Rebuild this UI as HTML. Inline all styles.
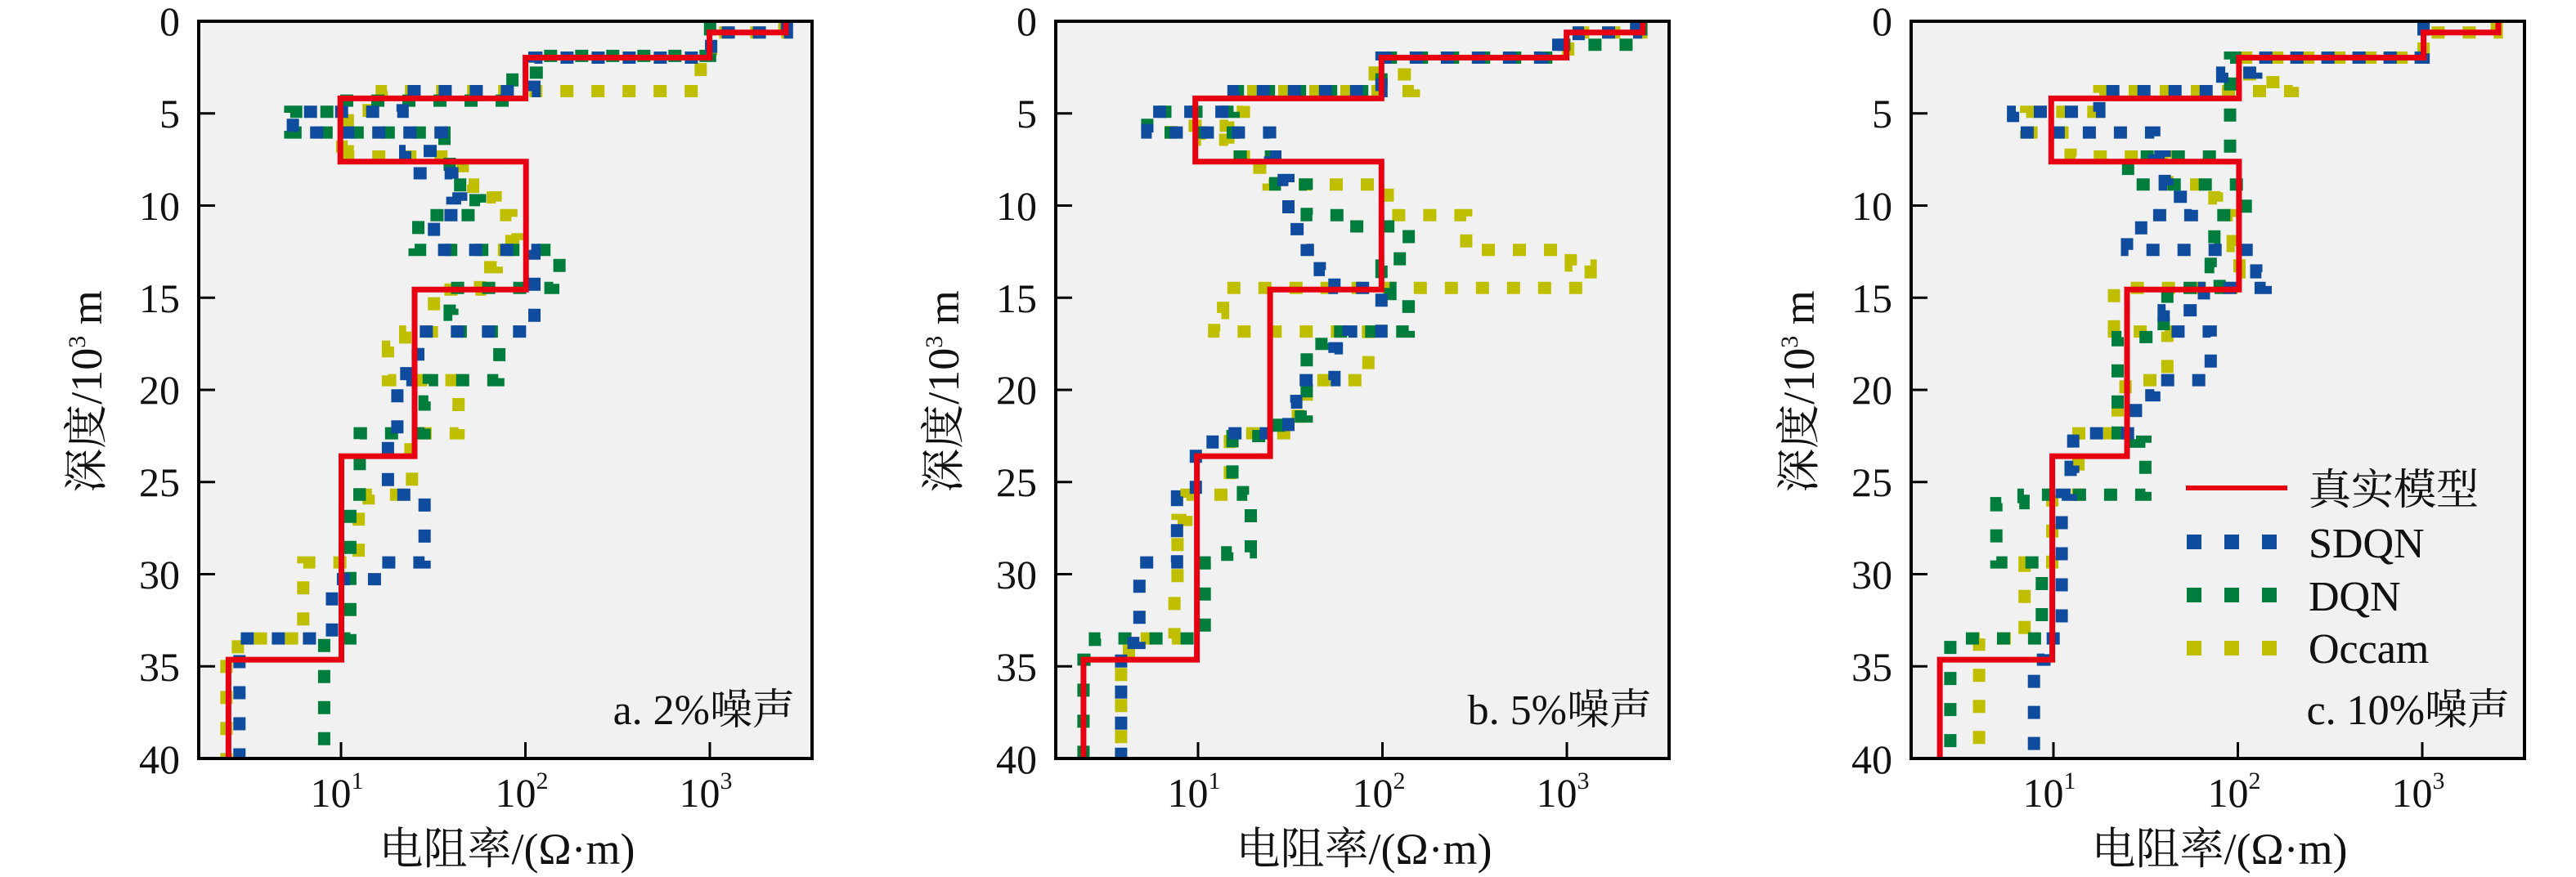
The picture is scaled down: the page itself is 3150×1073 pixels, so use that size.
<!DOCTYPE html>
<html><head><meta charset="utf-8"><style>
html,body{margin:0;padding:0;background:#fff;}
svg{display:block;font-family:"Liberation Serif","Times New Roman","Noto Serif CJK SC","Noto Sans CJK SC",serif;}
svg text{font-family:"Liberation Serif","Times New Roman","Noto Serif CJK SC","Noto Sans CJK SC",serif;fill:#111;}
</style></head><body>
<svg id="s" width="3150" height="1073" viewBox="0 0 3150 1073" xmlns="http://www.w3.org/2000/svg" font-family="Liberation Serif, Noto Serif CJK SC, serif">
<g id="p0" transform="translate(0,0)">
 <rect x="243" y="26" width="750" height="902" fill="#f1f1f1"/>
 <text x="972" y="886" font-size="52" text-anchor="end">a. 2%噪声</text>
</g>
<g id="p1" transform="translate(1048,0)">
 <rect x="243" y="26" width="750" height="902" fill="#f1f1f1"/>
 <text x="972" y="886" font-size="52" text-anchor="end">b. 5%噪声</text>
</g>
<g id="p2" transform="translate(2094,0)">
 <rect x="243" y="26" width="750" height="902" fill="#f1f1f1"/>
 <text x="975" y="886" font-size="52" text-anchor="end">c. 10%噪声</text>
 <line x1="579" y1="597" x2="703" y2="597" stroke="#e60012" stroke-width="6"/>
 <rect x="580" y="654" width="18" height="18" fill="#0f4c9e"/><rect x="626" y="654" width="18" height="18" fill="#0f4c9e"/><rect x="672" y="654" width="18" height="18" fill="#0f4c9e"/>
 <rect x="580" y="719" width="18" height="18" fill="#007d3c"/><rect x="626" y="719" width="18" height="18" fill="#007d3c"/><rect x="672" y="719" width="18" height="18" fill="#007d3c"/>
 <rect x="580" y="784" width="18" height="18" fill="#bfbf00"/><rect x="626" y="784" width="18" height="18" fill="#bfbf00"/><rect x="672" y="784" width="18" height="18" fill="#bfbf00"/>
 <text x="729" y="617" font-size="52">真实模型</text>
 <text x="729" y="682" font-size="52">SDQN</text>
 <text x="729" y="747" font-size="52">DQN</text>
 <text x="729" y="811" font-size="52">Occam</text>
</g>
<g>
 <text x="620" y="1057" font-size="54" text-anchor="middle">电阻率/(Ω·m)</text>
 <text transform="translate(124,479) rotate(-90)" font-size="54" text-anchor="middle">深度/10<tspan font-size="30" dy="-20">3</tspan><tspan dy="20"> m</tspan></text>
</g>
<g transform="translate(1048,0)">
 <text x="620" y="1057" font-size="54" text-anchor="middle">电阻率/(Ω·m)</text>
 <text transform="translate(124,479) rotate(-90)" font-size="54" text-anchor="middle">深度/10<tspan font-size="30" dy="-20">3</tspan><tspan dy="20"> m</tspan></text>
</g>
<g transform="translate(2094,0)">
 <text x="620" y="1057" font-size="54" text-anchor="middle">电阻率/(Ω·m)</text>
 <text transform="translate(124,479) rotate(-90)" font-size="54" text-anchor="middle">深度/10<tspan font-size="30" dy="-20">3</tspan><tspan dy="20"> m</tspan></text>
</g>
<g id="t0">
 <text x="220" y="43" font-size="50" text-anchor="end">0</text>
 <text x="220" y="156" font-size="50" text-anchor="end">5</text>
 <text x="220" y="269" font-size="50" text-anchor="end">10</text>
 <text x="220" y="382" font-size="50" text-anchor="end">15</text>
 <text x="220" y="494" font-size="50" text-anchor="end">20</text>
 <text x="220" y="607" font-size="50" text-anchor="end">25</text>
 <text x="220" y="720" font-size="50" text-anchor="end">30</text>
 <text x="220" y="833" font-size="50" text-anchor="end">35</text>
 <text x="220" y="946" font-size="50" text-anchor="end">40</text>
 <text x="412" y="987" font-size="50" text-anchor="middle">10<tspan font-size="30" dy="-22">1</tspan></text>
 <text x="638" y="987" font-size="50" text-anchor="middle">10<tspan font-size="30" dy="-22">2</tspan></text>
 <text x="863" y="987" font-size="50" text-anchor="middle">10<tspan font-size="30" dy="-22">3</tspan></text>
</g>
<g transform="translate(1048,0)">
 <text x="220" y="43" font-size="50" text-anchor="end">0</text>
 <text x="220" y="156" font-size="50" text-anchor="end">5</text>
 <text x="220" y="269" font-size="50" text-anchor="end">10</text>
 <text x="220" y="382" font-size="50" text-anchor="end">15</text>
 <text x="220" y="494" font-size="50" text-anchor="end">20</text>
 <text x="220" y="607" font-size="50" text-anchor="end">25</text>
 <text x="220" y="720" font-size="50" text-anchor="end">30</text>
 <text x="220" y="833" font-size="50" text-anchor="end">35</text>
 <text x="220" y="946" font-size="50" text-anchor="end">40</text>
 <text x="412" y="987" font-size="50" text-anchor="middle">10<tspan font-size="30" dy="-22">1</tspan></text>
 <text x="638" y="987" font-size="50" text-anchor="middle">10<tspan font-size="30" dy="-22">2</tspan></text>
 <text x="863" y="987" font-size="50" text-anchor="middle">10<tspan font-size="30" dy="-22">3</tspan></text>
</g>
<g transform="translate(2094,0)">
 <text x="220" y="43" font-size="50" text-anchor="end">0</text>
 <text x="220" y="156" font-size="50" text-anchor="end">5</text>
 <text x="220" y="269" font-size="50" text-anchor="end">10</text>
 <text x="220" y="382" font-size="50" text-anchor="end">15</text>
 <text x="220" y="494" font-size="50" text-anchor="end">20</text>
 <text x="220" y="607" font-size="50" text-anchor="end">25</text>
 <text x="220" y="720" font-size="50" text-anchor="end">30</text>
 <text x="220" y="833" font-size="50" text-anchor="end">35</text>
 <text x="220" y="946" font-size="50" text-anchor="end">40</text>
 <text x="412" y="987" font-size="50" text-anchor="middle">10<tspan font-size="30" dy="-22">1</tspan></text>
 <text x="638" y="987" font-size="50" text-anchor="middle">10<tspan font-size="30" dy="-22">2</tspan></text>
 <text x="863" y="987" font-size="50" text-anchor="middle">10<tspan font-size="30" dy="-22">3</tspan></text>
</g>
</svg>
<script>
(function(){
var NS="http://www.w3.org/2000/svg";
var svg=document.getElementById('s');
var offs=[0,1048,2094];
var FX=1.564, FY=1.462;
function conv(d,ox){
  var t=d.match(/[MHV]|-?\d+(\.\d+)?/g),out="",i=0,c;
  while(i<t.length){
    if(/[MHV]/.test(t[i])){c=t[i];i++;}
    if(c==="M"){out+="M"+(t[i]/FX+ox).toFixed(1)+" "+(t[i+1]/FY).toFixed(1)+" ";i+=2;}
    else if(c==="H"){out+="H"+(t[i]/FX+ox).toFixed(1)+" ";i++;}
    else {out+="V"+(t[i]/FY).toFixed(1)+" ";i++;}
  }
  return out;
}
var data=[
{y:"M1500 40 V58 H1360 V100 H1340 V163 H730 V197 H705 V215 H665 V262 H640 V280 H885 V293 H885 V330 H905 V353 H948 V385 H978 V428 H993 V447 H950 V478 H918 V518 H830 V575 H826 V593 H775 V620 H742 V680 H877 V740 H877 V775 H785 V838 H788 V885 H705 V928 H686 V986 H686 V1006 H580 V1128 H580 V1142 H455 V1180 H433 V1357",
 g:"M1358 40 V100 H1040 V130 H980 V180 H640 V200 H555 V237 H850 V280 H860 V330 H880 V358 H918 V385 H800 V428 H793 V447 H1070 V495 H1058 V515 H860 V563 H865 V593 H955 V663 H953 V680 H820 V718 H812 V775 H688 V885 H670 V1142 H620 V1357",
 b:"M1505 40 V58 H1360 V103 H1022 V163 H770 V200 H560 V237 H845 V270 H775 V310 H865 V355 H882 V385 H830 V447 H1022 V593 H800 V634 H777 V680 H760 V780 H742 V885 H812 V1006 H730 V1036 H635 V1142 H458 V1357",
 r:"M1503 40 V58 H1357 V103 H1005 V176 H651 V289 H1006 V518 H793 V816 H653 V1180 H437 V1357"},
{y:"M1500 40 V58 H1360 V103 H990 V133 H1065 V163 H740 V200 H710 V225 H600 V237 H655 V250 H710 V280 H740 V300 H787 V330 H1015 V340 H1015 V385 H1165 V447 H1365 V475 H1403 V515 H700 V560 H683 V593 H978 V657 H978 V680 H860 V718 H843 V775 H713 V842 H713 V885 H630 V930 H613 V990 H613 V1042 H607 V1100 H607 V1142 H520 V1190 H505 V1357",
 g:"M1500 40 V80 H1330 V103 H1003 V163 H720 V200 H555 V237 H720 V280 H800 V330 H860 V385 H940 V405 H1055 V447 H1038 V475 H1003 V515 H1020 V548 H1055 V593 H900 V615 H860 V745 H807 V780 H718 V845 H738 V885 H753 V988 H708 V1006 H665 V1142 H455 V1180 H433 V1357",
 b:"M1490 40 V58 H1380 V80 H1310 V103 H1003 V163 H720 V200 H555 V237 H790 V280 H800 V322 H825 V410 H860 V447 H885 V483 H913 V515 H1003 V593 H940 V623 H913 V680 H840 V720 H825 V775 H680 V803 H648 V888 H612 V1006 H540 V1150 H505 V1357",
 r:"M1503 40 V58 H1357 V103 H1003 V176 H647 V289 H1003 V518 H790 V816 H650 V1180 H433 V1357"},
{y:"M1500 40 V58 H1360 V103 H1010 V133 H1058 V147 H1110 V163 H740 V200 H600 V237 H685 V280 H870 V330 H960 V355 H965 V385 H995 V440 H1008 V487 H993 V515 H768 V593 H870 V680 H790 V707 H775 V775 H700 V885 H650 V1006 H597 V1142 H510 V1357",
 g:"M1360 40 V103 H990 V280 H795 V330 H1020 V385 H960 V435 H953 V478 H970 V515 H870 V565 H863 V603 H775 V775 H810 V790 H828 V885 H595 V900 H543 V1006 H630 V1142 H455 V1357",
 b:"M1360 40 V103 H1040 V130 H975 V163 H740 V200 H575 V237 H845 V280 H865 V330 H870 V352 H917 V385 H820 V420 H793 V447 H1040 V487 H1058 V515 H940 V555 H863 V593 H953 V680 H845 V707 H810 V775 H690 V835 H685 V885 H668 V1142 H635 V1180 H615 V1357",
 r:"M1503 40 V58 H1360 V103 H1007 V176 H648 V289 H1007 V518 H793 V816 H650 V1180 H435 V1357"}
];
var cols={y:"#bfbf00",g:"#007d3c",b:"#0f4c9e",r:"#e60012"};
for(var p=0;p<3;p++){
  var ox=offs[p];
  var grp=document.createElementNS(NS,"g");
  ["y","g","b","r"].forEach(function(k){
    var e=document.createElementNS(NS,"path");
    e.setAttribute("d",conv(data[p][k],ox));
    e.setAttribute("fill","none");
    e.setAttribute("stroke",cols[k]);
    if(k==="r"){e.setAttribute("stroke-width","7");}
    else{e.setAttribute("stroke-width","15");e.setAttribute("stroke-dasharray","16 22");}
    grp.appendChild(e);
  });
  svg.appendChild(grp);
  var f=document.createElementNS(NS,"rect");
  f.setAttribute("x",243+ox);f.setAttribute("y",26);f.setAttribute("width",750);f.setAttribute("height",902);
  f.setAttribute("fill","none");f.setAttribute("stroke","#000");f.setAttribute("stroke-width","4");
  svg.appendChild(f);
  for(var d=5;d<40;d+=5){
    var yy=26+d*22.55;
    var l=document.createElementNS(NS,"line");
    l.setAttribute("x1",243+ox);l.setAttribute("x2",263+ox);l.setAttribute("y1",yy);l.setAttribute("y2",yy);
    l.setAttribute("stroke","#000");l.setAttribute("stroke-width","3");svg.appendChild(l);
  }
  [417,642.5,868].forEach(function(x){
    var l=document.createElementNS(NS,"line");
    l.setAttribute("x1",x+ox);l.setAttribute("x2",x+ox);l.setAttribute("y1",928);l.setAttribute("y2",908);
    l.setAttribute("stroke","#000");l.setAttribute("stroke-width","3");svg.appendChild(l);
  });
}
var g=document.getElementById("p2");
var c=g.cloneNode(true); c.removeAttribute("id"); c.removeChild(c.querySelector("rect")); svg.appendChild(c);
})();
</script>
</body></html>
